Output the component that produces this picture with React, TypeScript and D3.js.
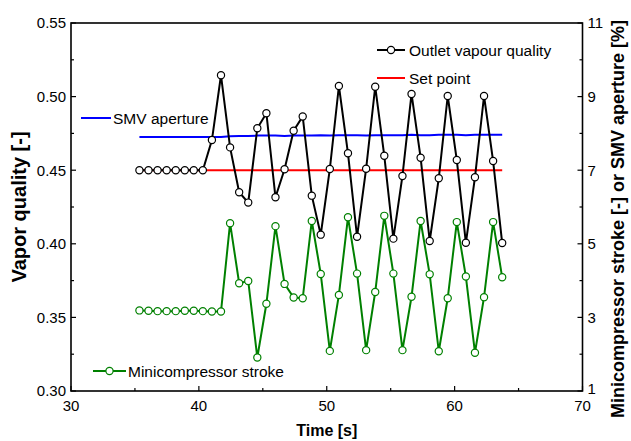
import React from 'react';
import * as d3 from 'd3';

// time axis samples [s]
const times = [
  35.35, 36.06, 36.77, 37.48, 38.19, 38.9, 39.6, 40.31, 41.02, 41.73,
  42.44, 43.15, 43.86, 44.57, 45.28, 45.99, 46.7, 47.41, 48.12, 48.83,
  49.53, 50.24, 50.95, 51.66, 52.37, 53.08, 53.79, 54.5, 55.21, 55.92,
  56.63, 57.34, 58.05, 58.76, 59.46, 60.17, 60.88, 61.59, 62.3, 63.01,
  63.72,
];

// outlet vapour quality [-] (left axis)
const outletQuality = [
  0.45, 0.45, 0.45, 0.45, 0.45, 0.45, 0.45, 0.45, 0.4705, 0.5145,
  0.4655, 0.435, 0.428, 0.4785, 0.4887, 0.4316, 0.4506, 0.4768, 0.4865, 0.4327,
  0.4062, 0.4508, 0.5072, 0.4615, 0.4048, 0.451, 0.5067, 0.4598, 0.4035, 0.4461,
  0.5018, 0.4585, 0.4019, 0.4445, 0.5004, 0.4569, 0.4007, 0.4452, 0.5004, 0.4562,
  0.4005,
];

// minicompressor stroke [-] (right axis)
const stroke = [
  3.19, 3.18, 3.17, 3.17, 3.17, 3.18, 3.18, 3.17, 3.16, 3.16,
  5.56, 3.93, 3.99, 1.91, 3.37, 5.48, 3.91, 3.54, 3.52, 5.62,
  4.18, 2.09, 3.61, 5.72, 4.19, 2.11, 3.69, 5.76, 4.19, 2.11,
  3.56, 5.62, 4.17, 2.08, 3.52, 5.59, 4.11, 2.04, 3.55, 5.59,
  4.09,
];

// SMV aperture [%] (right axis)
const smvAperture = [
  7.9, 7.9, 7.9, 7.9, 7.9, 7.9, 7.9, 7.9, 7.9, 7.9,
  7.92, 7.93, 7.93, 7.94, 7.94, 7.94, 7.93, 7.94, 7.94, 7.94,
  7.95, 7.94, 7.95, 7.95, 7.95, 7.94, 7.95, 7.95, 7.95, 7.95,
  7.96, 7.95, 7.95, 7.96, 7.96, 7.96, 7.95, 7.96, 7.96, 7.96,
  7.96,
];

// set point [-]
const setPointTimes = [35.35, 63.72];
const setPoint = [0.45, 0.45];

const xTicks = [30, 40, 50, 60, 70];
const yLeftTicks = [0.3, 0.35, 0.4, 0.45, 0.5, 0.55];
const yRightTicks = [1, 3, 5, 7, 9, 11];

const W = 631;
const H = 441;
const left = 71, right = 582.5, top = 23, bottom = 391;
const font = '"Liberation Sans", Arial, sans-serif';

export default function App() {
  const x = d3.scaleLinear().domain([30, 70]).range([left, right]);
  const yL = d3.scaleLinear().domain([0.3, 0.55]).range([bottom, top]);
  const yR = d3.scaleLinear().domain([1, 11]).range([bottom, top]);

  const lineL = d3.line<number>().x((d, i) => x(times[i])).y(d => yL(d));
  const lineR = d3.line<number>().x((d, i) => x(times[i])).y(d => yR(d));
  const lineSet = d3.line<number>().x((d, i) => x(setPointTimes[i])).y(d => yL(d));

  const mids = (arr: number[]) => arr.slice(1).map((v, i) => (v + arr[i]) / 2);

  const green = '#008000';

  return (
    <svg width={W} height={H} style={{ position: 'fixed', left: 0, top: 0, background: '#fff' }}
      fontFamily={font}>
      {/* data */}
      <path d={lineR(smvAperture) || ''} fill="none" stroke="#0000ff" strokeWidth={2} />
      <path d={lineSet(setPoint) || ''} fill="none" stroke="#ff0000" strokeWidth={2} />
      <path d={lineR(stroke) || ''} fill="none" stroke={green} strokeWidth={2} />
      {stroke.map((d, i) => (
        <circle key={'g' + i} cx={x(times[i])} cy={yR(d)} r={3.6} fill="#fff" stroke={green} strokeWidth={1.2} />
      ))}
      <path d={lineL(outletQuality) || ''} fill="none" stroke="#000" strokeWidth={2} />
      {outletQuality.map((d, i) => (
        <circle key={'b' + i} cx={x(times[i])} cy={yL(d)} r={3.6} fill="#fff" stroke="#000" strokeWidth={1.2} />
      ))}

      {/* frame */}
      <rect x={left} y={top} width={right - left} height={bottom - top} fill="none" stroke="#000" strokeWidth={1.6} />

      {/* bottom axis */}
      {xTicks.map(t => (
        <g key={'x' + t}>
          <line x1={x(t)} x2={x(t)} y1={bottom} y2={bottom - 5} stroke="#000" strokeWidth={1.2} />
          <text x={x(t)} y={bottom + 20} fontSize={15} textAnchor="middle">{t}</text>
        </g>
      ))}
      {mids(xTicks).map(t => (
        <line key={'xm' + t} x1={x(t)} x2={x(t)} y1={bottom} y2={bottom - 3} stroke="#000" strokeWidth={1.2} />
      ))}
      <text x={(left + right) / 2} y={436} fontSize={16} fontWeight="bold" textAnchor="middle">Time [s]</text>

      {/* left axis */}
      {yLeftTicks.map(t => (
        <g key={'yl' + t}>
          <line x1={left} x2={left + 5} y1={yL(t)} y2={yL(t)} stroke="#000" strokeWidth={1.2} />
          <text x={left - 5} y={yL(t)} dy="0.36em" fontSize={15} textAnchor="end">{t.toFixed(2)}</text>
        </g>
      ))}
      {mids(yLeftTicks).map(t => (
        <line key={'ylm' + t} x1={left} x2={left + 3} y1={yL(t)} y2={yL(t)} stroke="#000" strokeWidth={1.2} />
      ))}
      <text transform={`translate(26,${(top + bottom) / 2}) rotate(-90)`} fontSize={20} fontWeight="bold" textAnchor="middle">Vapor quality [-]</text>

      {/* right axis */}
      {yRightTicks.map(t => (
        <g key={'yr' + t}>
          <line x1={right} x2={right - 5} y1={yR(t)} y2={yR(t)} stroke="#000" strokeWidth={1.2} />
          <text x={right + 5} y={yR(t)} dy={t === 1 ? '0.2em' : '0.36em'} fontSize={15} textAnchor="start">{t}</text>
        </g>
      ))}
      {mids(yRightTicks).map(t => (
        <line key={'yrm' + t} x1={right} x2={right - 3} y1={yR(t)} y2={yR(t)} stroke="#000" strokeWidth={1.2} />
      ))}
      <text transform={`translate(624,${(top + bottom) / 2 + 12}) rotate(-90)`} fontSize={18} fontWeight="bold" textAnchor="middle">Minicompressor stroke [-] or SMV aperture [%]</text>

      {/* legends */}
      <g fontSize={15.5}>
        <line x1={377} x2={405} y1={50} y2={50} stroke="#000" strokeWidth={2} />
        <circle cx={391} cy={50} r={3.6} fill="#fff" stroke="#000" strokeWidth={1.2} />
        <text x={409} y={50} dy="0.36em">Outlet vapour quality</text>

        <line x1={377} x2={405} y1={78} y2={78} stroke="#ff0000" strokeWidth={2} />
        <text x={409} y={78} dy="0.36em">Set point</text>

        <line x1={81} x2={111} y1={118} y2={118} stroke="#0000ff" strokeWidth={2} />
        <text x={113} y={118} dy="0.36em">SMV aperture</text>

        <line x1={93} x2={126} y1={371} y2={371} stroke={green} strokeWidth={2} />
        <circle cx={109.5} cy={371} r={3.6} fill="#fff" stroke={green} strokeWidth={1.2} />
        <text x={128} y={371} dy="0.36em">Minicompressor stroke</text>
      </g>
    </svg>
  );
}
